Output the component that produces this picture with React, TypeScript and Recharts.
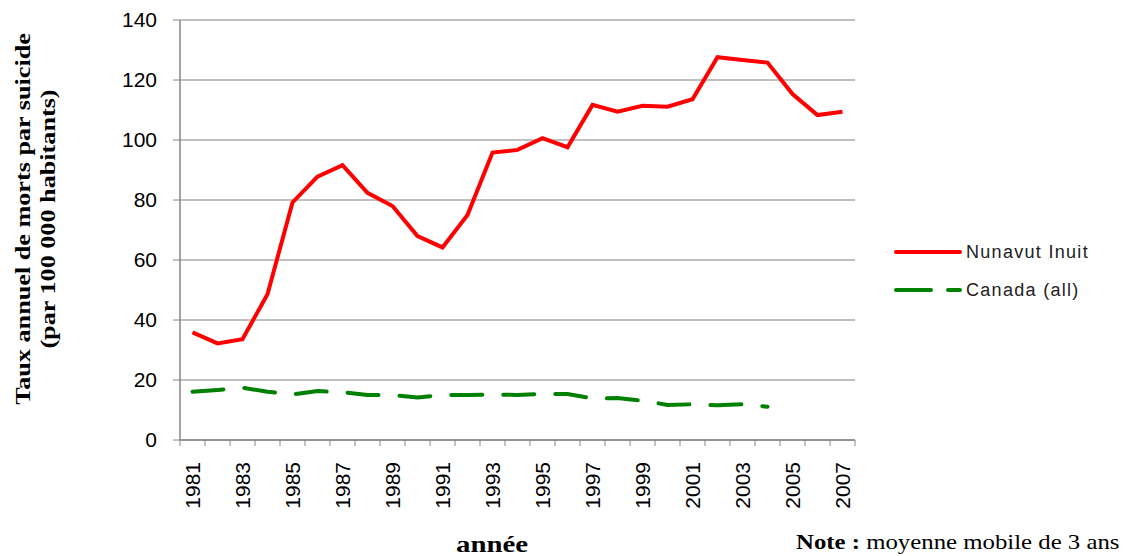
import { CartesianGrid, Legend, Line, LineChart, XAxis, YAxis } from 'recharts'

document.body.style.margin = '0'

const years = [
  1981, 1982, 1983, 1984, 1985, 1986, 1987, 1988, 1989, 1990, 1991, 1992, 1993, 1994,
  1995, 1996, 1997, 1998, 1999, 2000, 2001, 2002, 2003, 2004, 2005, 2006, 2007,
]
const nunavut = [
  35.9, 32.2, 33.6, 48.6, 79.2, 87.8, 91.6, 82.4, 78.0, 68.0, 64.2, 75.0, 95.8, 96.7,
  100.6, 97.6, 111.7, 109.4, 111.4, 111.1, 113.6, 127.6, 126.7, 125.8, 115.3, 108.3, 109.4,
]
const canada = [
  16.1, 16.7, 17.4, 16.1, 15.2, 16.3, 15.9, 15.0, 15.0, 14.2, 15.0, 15.0, 15.2, 15.0,
  15.4, 15.3, 13.9, 14.0, 13.1, 11.7, 11.9, 11.6, 11.9, 11.1, null, null, null,
]
const yTicks = [0, 20, 40, 60, 80, 100, 120, 140]

const data = years.map((year, i) => ({ year, nunavut: nunavut[i], canada: canada[i] }))

const W = 1126
const H = 556
const PLOT_LEFT = 180
const PLOT_RIGHT = 855
const HALF_BAND = (PLOT_RIGHT - PLOT_LEFT) / years.length / 2
const AXIS = '#868686'
const SANS = '"Liberation Sans", Arial, sans-serif'
const SERIF = '"Liberation Serif", "Times New Roman", serif'

function YearTick({ x, y, payload }: any) {
  const year = payload.value as number
  const last = year === years[years.length - 1]
  const ty = y + 22
  return (
    <g>
      <line x1={x - HALF_BAND} x2={x - HALF_BAND} y1={y} y2={y + 6} stroke={AXIS} />
      {last && <line x1={x + HALF_BAND} x2={x + HALF_BAND} y1={y} y2={y + 6} stroke={AXIS} />}
      {year % 2 === 1 && (
        <text
          x={x}
          y={ty}
          dy="0.36em"
          transform={`rotate(-90 ${x} ${ty})`}
          textAnchor="end"
          fill="#000"
          fontSize={21}
          fontFamily={SANS}
        >
          {year}
        </text>
      )}
    </g>
  )
}

function LegendBox() {
  const rows = [
    { label: 'Nunavut Inuit', color: '#ff0000', dash: undefined },
    { label: 'Canada (all)', color: '#008000', dash: '35 17' },
  ]
  return (
    <div>
      {rows.map((r) => (
        <div key={r.label} style={{ display: 'flex', alignItems: 'center', height: 38 }}>
          <svg width={68} height={8} style={{ marginRight: 4 }}>
            <line
              x1={2}
              x2={66}
              y1={4}
              y2={4}
              stroke={r.color}
              strokeWidth={4}
              strokeLinecap="round"
              strokeDasharray={r.dash}
            />
          </svg>
          <span
            style={{
              fontFamily: SANS,
              fontSize: 18,
              letterSpacing: 1.3,
              color: '#222',
            }}
          >
            {r.label}
          </span>
        </div>
      ))}
    </div>
  )
}

export default function App() {
  return (
    <div style={{ position: 'relative', width: W, height: H, background: '#fff' }}>
      <LineChart
        width={W}
        height={H}
        data={data}
        margin={{ top: 20, right: W - PLOT_RIGHT, left: 0, bottom: 0 }}
      >
        <CartesianGrid vertical={false} stroke="#ababab" strokeWidth={1.5} />
        <XAxis
          dataKey="year"
          type="number"
          domain={[1980.5, 2007.5]}
          ticks={years}
          interval={0}
          height={116}
          tickSize={0}
          tickMargin={0}
          tickLine={false}
          axisLine={{ stroke: AXIS, strokeWidth: 1.5 }}
          tick={<YearTick />}
        />
        <YAxis
          domain={[0, 140]}
          ticks={yTicks}
          width={PLOT_LEFT}
          tickSize={7}
          tickMargin={16}
          axisLine={{ stroke: AXIS, strokeWidth: 1.5 }}
          tickLine={{ stroke: AXIS }}
          tick={{ fill: '#000', fontSize: 21, fontFamily: SANS }}
        />
        <Legend
          layout="vertical"
          align="center"
          verticalAlign="middle"
          content={<LegendBox />}
          wrapperStyle={{ left: 894, top: 233, width: 230 }}
        />
        <Line
          dataKey="nunavut"
          stroke="#ff0000"
          strokeWidth={4}
          dot={false}
          type="linear"
          isAnimationActive={false}
        />
        <Line
          dataKey="canada"
          stroke="#008000"
          strokeWidth={4}
          strokeLinecap="round"
          strokeDasharray="31 21"
          dot={false}
          type="linear"
          isAnimationActive={false}
        />
      </LineChart>
      <div
        style={{
          position: 'absolute',
          left: 35,
          top: 219,
          transform: 'translate(-50%, -50%) rotate(-90deg) scaleX(1.19)',
          whiteSpace: 'nowrap',
          textAlign: 'center',
          fontFamily: SERIF,
          fontWeight: 'bold',
          fontSize: 22,
          lineHeight: '25px',
        }}
      >
        Taux annuel de morts par suicide
        <br />
        (par 100 000 habitants)
      </div>
      <div
        style={{
          position: 'absolute',
          left: 492,
          top: 544,
          transform: 'translate(-50%, -50%) scaleX(1.2)',
          fontFamily: SERIF,
          fontWeight: 'bold',
          fontSize: 24,
          whiteSpace: 'nowrap',
        }}
      >
        année
      </div>
      <div
        style={{
          position: 'absolute',
          left: 796,
          top: 530,
          transform: 'scaleX(1.18)',
          transformOrigin: 'left center',
          fontFamily: SERIF,
          fontSize: 21,
          whiteSpace: 'nowrap',
        }}
      >
        <b>Note :</b> moyenne mobile de 3 ans
      </div>
    </div>
  )
}
